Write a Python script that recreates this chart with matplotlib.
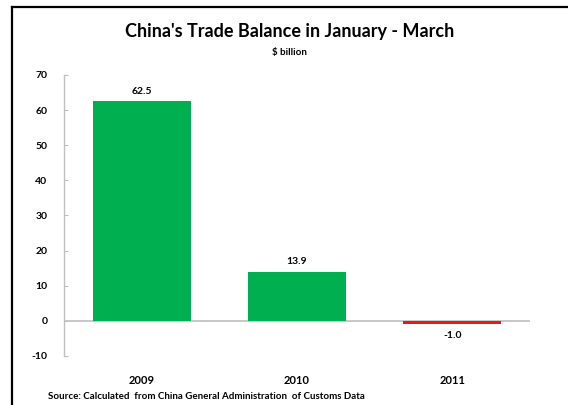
import matplotlib.pyplot as plt
from matplotlib.lines import Line2D

years = ["2009", "2010", "2011"]
balance = [62.5, 13.9, -1.0]
value_labels = ["62.5", "13.9", "-1.0"]
y_ticks = [-10, 0, 10, 20, 30, 40, 50, 60, 70]

GREEN = "#00B050"
RED = "#E31B1B"
GRAY = "#BFBFBF"

plt.rcParams["font.family"] = ["Lato", "DejaVu Sans"]

fig = plt.figure(figsize=(5.68, 4.05), dpi=100)
ax = fig.add_axes([0.1127, 0.121, 0.8205, 0.694])

colors = [GREEN if v >= 0 else RED for v in balance]
xs = list(range(len(years)))
ax.bar(xs, balance, width=0.63, color=colors, zorder=2)
ax.axhline(0, color=GRAY, lw=1.2, zorder=1)

for x, v, lab in zip(xs, balance, value_labels):
    if v >= 0:
        ax.annotate(lab, (x, v), xytext=(0, 4), textcoords="offset points",
                    ha="center", va="bottom", fontsize=7.5, fontweight="bold")
    else:
        ax.annotate(lab, (x, v), xytext=(0, -5), textcoords="offset points",
                    ha="center", va="top", fontsize=7.5, fontweight="bold")

ax.set_xlim(-0.5, 2.5)
ax.set_ylim(-10, 70)
ax.set_yticks(y_ticks)
ax.set_yticklabels([str(t) for t in y_ticks], fontsize=7.5, fontweight="bold")
ax.tick_params(axis="y", direction="in", length=3, color=GRAY, pad=12)
ax.set_xticks(xs)
ax.set_xticklabels(years, fontsize=8, fontweight="bold")
ax.tick_params(axis="x", length=0, pad=14)
for side in ["top", "right", "bottom"]:
    ax.spines[side].set_visible(False)
ax.spines["left"].set_color(GRAY)
ax.spines["left"].set_linewidth(1.0)

fig.text(0.51, 0.921, "China's Trade Balance in January - March",
         ha="center", va="center", fontsize=13, fontweight="bold")
fig.text(0.51, 0.871, "$ billion", ha="center", va="center",
         fontsize=7, fontweight="bold")
fig.text(0.085, 0.022, "Source: Calculated  from China General Administration  of Customs Data",
         ha="left", va="center", fontsize=7, fontweight="bold")

# outer frame (left and top edges)
fig.add_artist(Line2D([0.021, 0.021], [0.0, 0.983], transform=fig.transFigure,
                      color="black", lw=1.6))
fig.add_artist(Line2D([0.021, 1.0], [0.983, 0.983], transform=fig.transFigure,
                      color="black", lw=1.6))

fig.savefig("out.png", dpi=100)
